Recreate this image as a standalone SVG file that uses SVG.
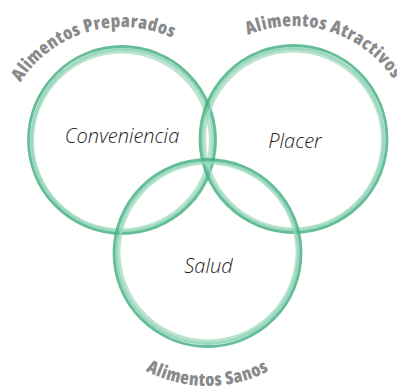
<svg xmlns="http://www.w3.org/2000/svg" width="397" height="386" viewBox="0 0 397 386">
<style>
.b1{fill:none;stroke:#3dad7e;stroke-opacity:.8;stroke-width:2.8}
.b2{fill:none;stroke:#5cbf93;stroke-opacity:.6;stroke-width:3}
.b3{fill:none;stroke:#9dd9bd;stroke-opacity:.7;stroke-width:3}
.lbl{font-family:"Open Sans","Liberation Sans",sans-serif;font-style:italic;font-weight:300;font-size:20px;fill:#1e1e1e;text-anchor:middle}
.arc{font-family:"Open Sans","Liberation Sans",sans-serif;font-weight:800;font-stretch:87.5%;font-size:18px;letter-spacing:0.5px;fill:#8a8a8a;text-anchor:middle}
</style>
<defs>
<path id="pL" d="M1,148 A121,121 0 0 1 243,148"/>
<path id="pR" d="M173.5,146 A120,120 0 0 1 413.5,146"/>
<path id="pB" d="M74.5,253 A133,133 0 0 0 340.5,253"/>
</defs>
<g id="connectors"/>
<g id="node-conveniencia">
<circle class="b1" cx="122" cy="140" r="93.5"/>
<circle class="b2" cx="122.5" cy="140.5" r="91"/>
<circle class="b3" cx="121.5" cy="141" r="89"/>
<text class="lbl" x="122" y="143">Conveniencia</text>
</g>
<g id="node-placer">
<circle class="b1" cx="293.5" cy="139" r="93.5"/>
<circle class="b2" cx="293" cy="139.5" r="91"/>
<circle class="b3" cx="293.5" cy="140" r="89"/>
<text class="lbl" x="295" y="148">Placer</text>
</g>
<g id="node-salud">
<circle class="b1" cx="207.5" cy="253" r="93.5"/>
<circle class="b2" cx="207.5" cy="252.5" r="91"/>
<circle class="b3" cx="208" cy="252" r="89"/>
<text class="lbl" x="208.5" y="273">Salud</text>
</g>
<g id="label-preparados">
<text class="arc"><textPath href="#pL" startOffset="41%">Alimentos Preparados</textPath></text>
</g>
<g id="label-atractivos">
<text class="arc"><textPath href="#pR" startOffset="59.4%">Alimentos Atractivos</textPath></text>
</g>
<g id="label-sanos">
<text class="arc"><textPath href="#pB" startOffset="50%">Alimentos Sanos</textPath></text>
</g>
</svg>
